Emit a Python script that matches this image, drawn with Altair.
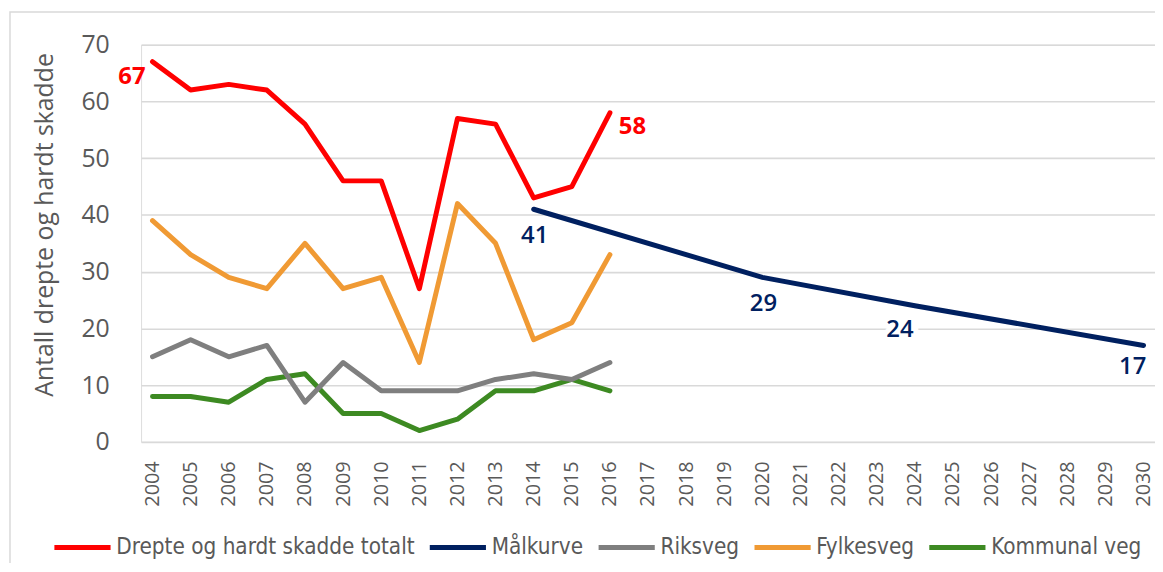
import altair as alt
import pandas as pd

# ---------------- data ----------------
tick_years = ["2004", "2005", "2006", "2007", "2008", "2009", "2010", "2011", "2012", "2013",
              "2014", "2015", "2016", "2017", "2018", "2019", "2020", "2021", "2022", "2023",
              "2024", "2025", "2026", "2027", "2028", "2029", "2030"]
y_ticks = [0, 10, 20, 30, 40, 50, 60, 70]

obs_years = ["2004", "2005", "2006", "2007", "2008", "2009", "2010", "2011", "2012", "2013",
             "2014", "2015", "2016"]
total = [67, 62, 63, 62, 56, 46, 46, 27, 57, 56, 43, 45, 58]
riksveg = [15, 18, 15, 17, 7, 14, 9, 9, 9, 11, 12, 11, 14]
fylkesveg = [39, 33, 29, 27, 35, 27, 29, 14, 42, 35, 18, 21, 33]
kommunal = [8, 8, 7, 11, 12, 5, 5, 2, 4, 9, 9, 11, 9]

target_years = ["2014", "2020", "2024", "2030"]
target = [41, 29, 24, 17]

series = ["Drepte og hardt skadde totalt", "Målkurve", "Riksveg", "Fylkesveg", "Kommunal veg"]
colors = ["#FF0000", "#002060", "#7F7F7F", "#F09A34", "#3D8A22"]

rows = []
for name, vals in [(series[4], kommunal), (series[2], riksveg), (series[3], fylkesveg), (series[0], total)]:
    for yr, v in zip(obs_years, vals):
        rows.append({"year": yr, "value": v, "serie": name})
for yr, v in zip(target_years, target):
    rows.append({"year": yr, "value": v, "serie": series[1]})
df = pd.DataFrame(rows)

FONT = "Open Sans"
LEGEND_FONT = "DejaVu Sans Condensed, Roboto, sans-serif"

x_scale = alt.Scale(domain=tick_years, padding=0.3)
x_enc = alt.X("year:O", scale=x_scale,
              axis=alt.Axis(labelAngle=-90, labelFontSize=20, labelColor="#595959", labelFont=FONT,
                            labelPadding=19, grid=False, domain=False, ticks=False, tickSize=0,
                            title=None, labelOverlap=False))
y_scale = alt.Scale(domain=[0, 70], nice=False)
y_enc = alt.Y("value:Q", scale=y_scale,
              axis=alt.Axis(values=y_ticks, labelFontSize=25, labelColor="#595959", labelFont=FONT,
                            labelPadding=32, grid=True, gridColor="#D9D9D9", gridWidth=1.6,
                            domain=False, ticks=False, tickSize=0,
                            title="Antall drepte og hardt skadde", titleFont=FONT, titleFontSize=25,
                            titleFontWeight="normal", titleColor="#595959",
                            titleAngle=-90, titleX=-97, titleY=181, titleAlign="center",
                            titleBaseline="middle"))

lines = alt.Chart(df).mark_line(strokeWidth=5, strokeCap="round", strokeJoin="round").encode(
    x=x_enc, y=y_enc,
    color=alt.Color("serie:N", scale=alt.Scale(domain=series, range=colors),
                    legend=alt.Legend(orient="none", legendX=-90, legendY=475, direction="horizontal",
                                      title=None, symbolType="stroke", symbolSize=3200,
                                      symbolStrokeWidth=5, labelFont=LEGEND_FONT,
                                      labelFontSize=22.5, labelColor="#595959", labelOffset=3,
                                      columnPadding=4, labelLimit=500)),
)

# ---------------- labels ----------------
def label(yr, v, color, dx, dy, align="center", halo=False, weight="bold"):
    d = pd.DataFrame({"year": [yr], "value": [v], "txt": [str(v)]})
    base = alt.Chart(d)
    enc = dict(x=alt.X("year:O", scale=x_scale), y=alt.Y("value:Q", scale=y_scale), text="txt:N")
    layers = []
    if halo:
        layers.append(base.mark_text(font=FONT, fontSize=24, fontWeight=weight, color="white",
                                     stroke="white", strokeWidth=10, align=align, baseline="middle",
                                     dx=dx, dy=dy).encode(**enc))
    layers.append(base.mark_text(font=FONT, fontSize=24, fontWeight=weight, color=color,
                                 align=align, baseline="middle", dx=dx, dy=dy).encode(**enc))
    return layers

lab_layers = []
lab_layers += label(obs_years[0], total[0], colors[0], -7, 15, "right")
lab_layers += label(obs_years[-1], total[-1], colors[0], 9, 14, "left")
lab_layers += label(target_years[0], target[0], colors[1], 1, 27, weight=600)
lab_layers += label(target_years[1], target[1], colors[1], 1, 27, weight=600)
lab_layers += label(target_years[2], target[2], colors[1], -15, 25, halo=True, weight=600)
lab_layers += label(target_years[3], target[3], colors[1], -11, 22, weight=600)

# chart border (decoration)
border = alt.Chart(pd.DataFrame({"a": [0]})).mark_rect(fill=None, stroke="#D9D9D9", strokeWidth=1.5).encode(
    x=alt.value(-132), x2=alt.value(1040), y=alt.value(-33), y2=alt.value(545)
)

chart = alt.layer(border, lines, *lab_layers).properties(
    width=1021, height=400,
    autosize=alt.AutoSizeParams(type="none"),
    padding={"left": 134, "top": 35, "right": 0, "bottom": 120},
).configure_view(stroke=None).configure(font=FONT)

chart.save("out.html", embed_options={"renderer": "svg", "actions": False})
